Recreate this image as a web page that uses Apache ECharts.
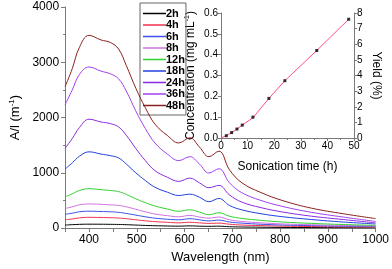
<!DOCTYPE html>
<html><head><meta charset="utf-8">
<script src="https://cdn.jsdelivr.net/npm/echarts@6/dist/echarts.min.js"></script>
<style>html,body{margin:0;padding:0;background:#fff}#c{width:392px;height:269px}</style>
</head><body><div id="c"></div>
<script>
const wavelengths = [350,365,380,400,425,445,462,478,498,518,538,564,588,611,631,651,672,694,720,760,806,866,932,1000];
const seriesNames = ['2h','4h','6h','8h','12h','18h','24h','36h','48h'];
const s2h  = [55,62,68,71,70,68,66,62,55,48,43,38,35,40,35,32,35,25,20,16,12,10,8,5];
const s4h  = [150,165,185,195,192,188,182,170,150,132,117,105,95,105,95,85,90,70,55,45,35,28,22,20];
const s6h  = [250,270,295,306,300,295,285,265,235,205,180,160,150,170,150,130,145,110,90,70,55,45,35,30];
const s8h  = [355,385,420,437,430,420,410,385,340,295,255,225,205,230,200,180,200,150,120,95,75,60,48,40];
const s12h = [566,620,680,713,695,680,660,610,530,460,400,345,305,331,290,242,278,215,175,140,110,85,65,50];
const s18h = [1068,1180,1300,1380,1340,1310,1270,1160,1000,860,740,650,590,614,560,478,536,410,330,260,205,155,110,75];
const s24h = [1445,1620,1820,1970,1920,1890,1830,1680,1440,1220,1040,920,845,905,820,731,773,600,470,370,290,215,155,95];
const s36h = [2235,2500,2780,2915,2840,2790,2700,2480,2120,1800,1540,1340,1221,1292,1160,997,1074,820,640,500,390,285,200,120];
const s48h = [2560,2885,3270,3487,3404,3357,3239,2944,2531,2177,1881,1676,1540,1634,1469,1292,1392,1056,820,643,496,360,260,172];
const seriesColors = ['#000000','#f0304a','#3a50e8','#d070e0','#30d030','#2040e0','#8a2be2','#a040f0','#8b2020'];
const mainX = [350,1000];
const mainYTicks = [0,4000];

const sonicTime = [2,4,6,8,12,18,24,36,48];
const concentration = [0.011,0.026,0.043,0.062,0.1,0.19,0.275,0.42,0.57];
const fitTime = [0,2,4,6,8,12,18,24,36,48];
const fitConc = [0,0.011,0.026,0.043,0.062,0.097,0.19,0.275,0.42,0.57];

const allS = [s2h,s4h,s6h,s8h,s12h,s18h,s24h,s36h,s48h];
const font = 'Liberation Sans, Arial, sans-serif';
const axisGrey = '#7a7a7a';

const series = allS.map((arr,i)=>({
  name: seriesNames[i], type:'line', xAxisIndex:0, yAxisIndex:0,
  data: wavelengths.map((w,j)=>[w,arr[j]]), smooth:0.4, symbol:'none',
  lineStyle:{width:1, color:seriesColors[i]}, itemStyle:{color:seriesColors[i]}, z: 2
}));
series.push({
  name:'fit', type:'line', xAxisIndex:1, yAxisIndex:1, symbol:'none',
  data: fitTime.map((t,i)=>[t,fitConc[i]]), lineStyle:{width:1,color:'#ff5080'}, z:3
});
series.push({
  name:'pts', type:'scatter', xAxisIndex:1, yAxisIndex:1, symbol:'rect', symbolSize:3,
  data: sonicTime.map((t,i)=>[t,concentration[i]]), itemStyle:{color:'#000'}, z:4
});

const chart = echarts.init(document.getElementById('c'), null, {renderer:'canvas'});
chart.setOption({
  animation:false,
  textStyle:{fontFamily:font},
  grid:[
    {left:50, right:14, top:7, bottom:36},
    {left:221, right:38, top:13, bottom:131}
  ],
  legend:{
    data: seriesNames.map(n=>({name:n, icon:'rect'})), orient:'vertical', left:140, top:3,
    padding:[5,1,4,3], z:1,
    borderColor:'#666', borderWidth:1, backgroundColor:'rgba(0,0,0,0)',
    itemWidth:23, itemHeight:1.5, itemGap:0.5,
    textStyle:{fontSize:11, fontWeight:'bold', color:'#000', fontFamily:font, lineHeight:11, padding:[0,0,0,-5]}
  },
  xAxis:[
    {gridIndex:0, type:'value', min:mainX[0], max:mainX[1], interval:50,
     axisLine:{lineStyle:{color:axisGrey}}, axisTick:{length:4, lineStyle:{color:axisGrey}},
     splitLine:{show:false},
     axisLabel:{fontSize:12, color:'#000', margin:6, formatter:v=> v%100===0 ? String(v) : ''},
     name:'Wavelength (nm)', nameLocation:'middle', nameGap:20,
     nameTextStyle:{fontSize:13, color:'#000'}},
    {gridIndex:1, type:'value', min:0, max:50, interval:10,
     axisLine:{lineStyle:{color:axisGrey}}, axisTick:{length:3, lineStyle:{color:axisGrey}},
     minorTick:{show:true, splitNumber:2, length:2, lineStyle:{color:axisGrey}},
     splitLine:{show:false},
     axisLabel:{fontSize:10, color:'#000', margin:3},
     name:'Sonication time (h)', nameLocation:'middle', nameGap:23,
     nameTextStyle:{fontSize:12, color:'#000'}}
  ],
  yAxis:[
    {gridIndex:0, type:'value', min:mainYTicks[0], max:mainYTicks[1], interval:1000,
     axisLine:{show:true, lineStyle:{color:axisGrey}}, axisTick:{show:true, length:4, lineStyle:{color:axisGrey}},
     minorTick:{show:true, splitNumber:2, length:2, lineStyle:{color:axisGrey}},
     splitLine:{show:false},
     axisLabel:{fontSize:12, color:'#000', margin:6, formatter:v=>String(v)},
     name:'{a|A/l (m}{s|-1}{a|)}', nameLocation:'middle', nameGap:36, nameRotate:90,
     nameTextStyle:{rich:{a:{fontSize:13, color:'#000', fontFamily:font}, s:{fontSize:8, color:'#000', fontFamily:font, verticalAlign:'top', padding:[0,0,6,0]}}}},
    {gridIndex:1, type:'value', min:0, max:0.6, interval:0.1,
     axisLine:{show:true, lineStyle:{color:axisGrey}}, axisTick:{show:true, length:3, lineStyle:{color:axisGrey}},
     splitLine:{show:false},
     axisLabel:{fontSize:10, color:'#000', margin:3, formatter:v=>v.toFixed(1)},
     name:'{a|Concentration (mg mL}{s|-1}{a|)}', nameLocation:'middle', nameGap:24, nameRotate:90,
     nameTextStyle:{rich:{a:{fontSize:12, color:'#000', fontFamily:font}, s:{fontSize:7, color:'#000', fontFamily:font, verticalAlign:'top', padding:[0,0,6,0]}}}},
    {gridIndex:1, type:'value', position:'right', min:0, max:8, interval:1,
     axisLine:{show:true, lineStyle:{color:axisGrey}}, axisTick:{show:true, length:3, lineStyle:{color:axisGrey}},
     splitLine:{show:false},
     axisLabel:{fontSize:10, color:'#000', margin:3},
     name:'Yield (%)', nameLocation:'middle', nameGap:16, nameRotate:-90,
     nameTextStyle:{fontSize:12, color:'#000'}}
  ],
  series: series
});
</script></body></html>
